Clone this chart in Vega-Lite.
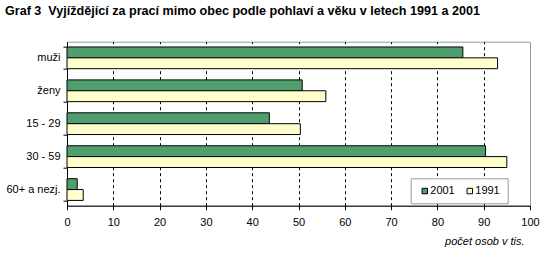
{
  "$schema": "https://vega.github.io/schema/vega-lite/v6.json",
  "width": 463,
  "height": 164,
  "autosize": {"type": "none"},
  "padding": {"left": 67, "top": 41.7, "right": 28, "bottom": 50},
  "background": "white",
  "title": {
    "text": "Graf 3\u00a0 Vyjíždějící za prací mimo obec podle pohlaví a věku v letech 1991 a 2001",
    "anchor": "start",
    "frame": "group",
    "dx": -62,
    "dy": 6,
    "offset": 24,
    "font": "Liberation Sans",
    "fontSize": 12.6,
    "fontWeight": "bold",
    "color": "black"
  },
  "data": {
    "values": [
      {"kategorie": "muži", "rok": "2001", "hodnota": 85.5},
      {"kategorie": "muži", "rok": "1991", "hodnota": 93.0},
      {"kategorie": "ženy", "rok": "2001", "hodnota": 50.8},
      {"kategorie": "ženy", "rok": "1991", "hodnota": 55.9},
      {"kategorie": "15 - 29", "rok": "2001", "hodnota": 43.7},
      {"kategorie": "15 - 29", "rok": "1991", "hodnota": 50.4},
      {"kategorie": "30 - 59", "rok": "2001", "hodnota": 90.4},
      {"kategorie": "30 - 59", "rok": "1991", "hodnota": 95.0},
      {"kategorie": "60+ a nezj.", "rok": "2001", "hodnota": 2.2},
      {"kategorie": "60+ a nezj.", "rok": "1991", "hodnota": 3.5}
    ]
  },
  "config": {
    "view": {"stroke": "#999999", "strokeWidth": 1},
    "font": "Liberation Sans"
  },
  "mark": {"type": "bar", "stroke": "black", "strokeWidth": 1},
  "encoding": {
    "y": {
      "field": "kategorie",
      "type": "nominal",
      "sort": ["muži", "ženy", "15 - 29", "30 - 59", "60+ a nezj."],
      "scale": {"paddingInner": 0.34, "paddingOuter": 0.16},
      "axis": {
        "title": null,
        "domainColor": "black",
        "tickColor": "black",
        "tickSize": 4,
        "tickBand": "extent",
        "labelPadding": 3,
        "labelFontSize": 11,
        "labelColor": "black",
        "labelFont": "Liberation Sans"
      }
    },
    "yOffset": {
      "field": "rok",
      "type": "nominal",
      "sort": ["2001", "1991"],
      "scale": {"paddingInner": 0, "paddingOuter": 0}
    },
    "x": {
      "field": "hodnota",
      "type": "quantitative",
      "scale": {"domain": [0, 100], "nice": false},
      "axis": {
        "title": "počet osob v tis.",
        "titleFontStyle": "italic",
        "titleFontWeight": "normal",
        "titleFontSize": 11,
        "titleColor": "black",
        "titleAnchor": "end",
        "titleAlign": "right",
        "titleBaseline": "middle",
        "titleX": 457,
        "titleY": 36,
        "values": [0, 10, 20, 30, 40, 50, 60, 70, 80, 90, 100],
        "domainColor": "black",
        "tickColor": "black",
        "tickSize": 4,
        "labelPadding": 7,
        "labelFontSize": 11,
        "labelColor": "black",
        "labelFlush": false,
        "grid": true,
        "gridColor": "black",
        "gridDash": [3, 3],
        "gridOpacity": {"condition": {"test": "datum.value == 0 || datum.value == 100", "value": 0}, "value": 1}
      }
    },
    "fill": {
      "field": "rok",
      "type": "nominal",
      "sort": ["2001", "1991"],
      "scale": {"domain": ["2001", "1991"], "range": ["#4f9e6e", "#ffffcc"]},
      "legend": {
        "title": null,
        "orient": "none",
        "legendX": 343.7,
        "legendY": 136.6,
        "direction": "horizontal",
        "columns": 2,
        "symbolType": "square",
        "symbolSize": 30,
        "symbolOffset": 1.6,
        "symbolStrokeColor": "black",
        "symbolStrokeWidth": 1,
        "labelOffset": 0,
        "labelFontSize": 11,
        "labelColor": "black",
        "labelFont": "Liberation Sans",
        "labelExpr": "datum.label == '1991' ? datum.label + '\u00a0\u00a0\u00a0\u00a0\u00a0\u00a0\u00a0\u00a0\u00a0\u00a0\u00a0\u00a0\u00a0' : datum.label",
        "columnPadding": 7,
        "padding": 7,
        "strokeColor": "#999999",
        "fillColor": "white"
      }
    }
  }
}
